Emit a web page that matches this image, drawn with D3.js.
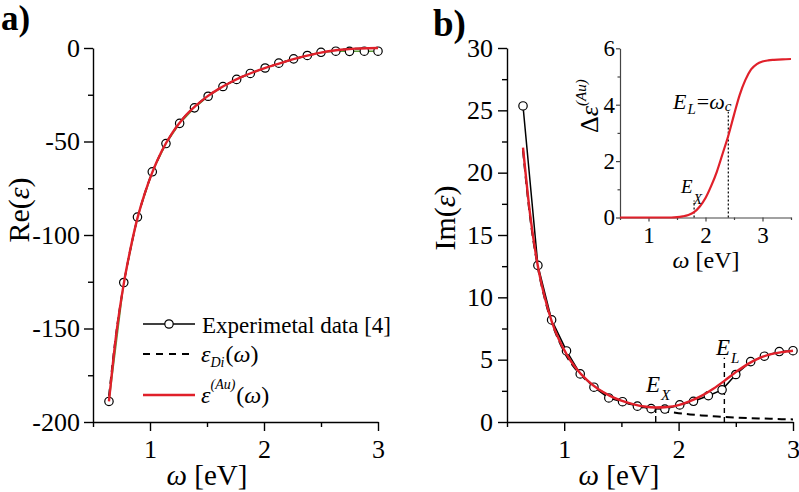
<!DOCTYPE html>
<html>
<head>
<meta charset="utf-8">
<script src="https://cdnjs.cloudflare.com/ajax/libs/d3/7.8.5/d3.min.js"></script>
<style>
body { margin: 0; background: #fff; }
svg { display: block; font-family: "Liberation Serif", "Times New Roman", serif; }
</style>
</head>
<body>
<svg width="799" height="492"></svg>
<script>
// experimental points (photon energy, eV)
const omegaExp = [0.64, 0.77, 0.89, 1.02, 1.14, 1.26, 1.39, 1.51, 1.64, 1.76, 1.88, 2.01, 2.13, 2.26, 2.38, 2.50, 2.63, 2.75, 2.88, 3.00]
const reExp = [-189.0, -125.4, -90.4, -66.2, -51.1, -40.3, -32.0, -25.8, -20.6, -16.8, -13.6, -10.7, -8.1, -5.8, -4.0, -2.3, -1.7, -1.8, -1.7, -1.7]
const imExp = [25.35, 12.56, 8.19, 5.70, 3.86, 2.79, 1.93, 1.63, 1.27, 1.07, 1.04, 1.37, 1.66, 2.11, 2.58, 3.81, 4.84, 5.28, 5.65, 5.72]

// model curves
const omegaFit = [0.64, 0.70, 0.77, 0.83, 0.89, 0.95, 1.02, 1.10, 1.20, 1.30, 1.40, 1.50, 1.60, 1.70, 1.80, 1.90, 2.00, 2.10, 2.20, 2.30, 2.40, 2.50, 2.60, 2.70, 2.80, 2.90, 3.00]
const reFit = [-189, -155, -126, -107, -91, -78.5, -66.5, -55.5, -45, -37, -31, -26, -22, -18.6, -15.6, -13.1, -10.9, -8.9, -7.0, -5.3, -3.8, -2.5, -1.5, -0.8, -0.35, -0.1, 0]
const reDrude = [-186, -154, -126, -107, -91, -78.5, -66.5, -55.5, -45, -37, -31, -26, -22, -18.6, -15.6, -13.1, -10.9, -8.9, -7.0, -5.3, -3.8, -2.5, -1.5, -0.8, -0.35, -0.1, 0]
const imFit = [22.0, 16.8, 12.5, 10.0, 8.1, 6.7, 5.45, 4.35, 3.35, 2.62, 2.1, 1.71, 1.43, 1.24, 1.16, 1.2, 1.36, 1.68, 2.1, 2.65, 3.3, 4.0, 4.62, 5.1, 5.42, 5.6, 5.72]
const imDrude = [21.8, 16.6, 12.4, 9.9, 8.0, 6.6, 5.3, 4.25, 3.3, 2.6, 2.07, 1.68, 1.38, 1.15, 0.97, 0.83, 0.71, 0.61, 0.53, 0.47, 0.41, 0.36, 0.32, 0.29, 0.26, 0.23, 0.21]

// inset: interband contribution
const omegaInset = [0.5, 1.0, 1.4, 1.5, 1.6, 1.7, 1.8, 1.9, 2.0, 2.1, 2.2, 2.3, 2.4, 2.5, 2.6, 2.7, 2.8, 2.9, 3.0, 3.1, 3.2, 3.35, 3.5]
const deltaEps = [0, 0, 0, 0.01, 0.04, 0.09, 0.19, 0.39, 0.69, 1.12, 1.63, 2.26, 2.9, 3.64, 4.35, 4.88, 5.25, 5.44, 5.53, 5.57, 5.59, 5.61, 5.62]

const EX = 1.8, EL = 2.4

// ticks
const xMajor = [1, 2, 3], xMinor = [0.5, 1.5, 2.5]
const reMajor = [0, -50, -100, -150, -200], reMinor = [-25, -75, -125, -175]
const imMajor = [0, 5, 10, 15, 20, 25, 30], imMinor = [2.5, 7.5, 12.5, 17.5, 22.5, 27.5]
const insMajorY = [0, 2, 4, 6], insMinorY = [1, 3, 5]
const insMajorX = [1, 2, 3], insMinorX = [0.5, 1.5, 2.5, 3.5]

const RED = '#e0202a'
const SERIF = '"Liberation Serif", "Times New Roman", serif'
const svg = d3.select('svg')

const zip = (xs, ys) => xs.map((v, i) => [v, ys[i]])

function addAxes(g, x, y, o) {
    const gy = g.append('g').attr('transform', `translate(${x.range()[0]},0)`)
    gy.call(d3.axisLeft(y).tickValues(o.yMajor).tickSize(o.major).tickSizeOuter(0)
        .tickPadding(o.padY).tickFormat(d => String(d)))
    gy.append('g').call(d3.axisLeft(y).tickValues(o.yMinor).tickSize(o.minor).tickFormat(''))
        .select('.domain').remove()

    const gx = g.append('g').attr('transform', `translate(0,${y.range()[0]})`)
    gx.call(d3.axisBottom(x).tickValues(o.xMajor).tickSize(o.major).tickSizeOuter(0)
        .tickPadding(o.padX).tickFormat(d => String(d)))
    gx.append('g').call(d3.axisBottom(x).tickValues(o.xMinor).tickSize(o.minor).tickFormat(''))
        .select('.domain').remove()

    g.selectAll('g').attr('font-family', SERIF).attr('font-size', o.fontSize)
    g.selectAll('.domain, .tick line').attr('stroke', o.color).attr('stroke-width', o.width)
    g.selectAll('.tick text').attr('fill', '#000')
}

// parts: {t, i: italic, s: size, dy: offset from baseline, dx}
function rich(g, x, y, parts, size) {
    const t = g.append('text').attr('x', x).attr('y', y)
        .attr('font-size', size).attr('font-family', SERIF).attr('fill', '#000')
    let shift = 0
    parts.forEach(p => {
        const s = t.append('tspan').text(p.t)
        if (p.i) s.attr('font-style', 'italic')
        if (p.s) s.attr('font-size', p.s)
        const target = p.dy || 0
        if (target !== shift) s.attr('dy', target - shift)
        shift = target
        if (p.dx) s.attr('dx', p.dx)
    })
    return t
}

// ---------- panel a ----------
const xa = d3.scaleLinear().domain([0.5, 3]).range([93, 378])
const ya = d3.scaleLinear().domain([-200, 0]).range([422, 48])
const ga = svg.append('g')
addAxes(ga, xa, ya, { yMajor: reMajor, yMinor: reMinor, xMajor, xMinor, major: 9, minor: 5,
    padY: 4, padX: 9, fontSize: 26, color: '#000', width: 1.4 })

const lineA = d3.line().x(d => xa(d[0])).y(d => ya(d[1]))
ga.append('path').datum(zip(omegaExp, reExp)).attr('d', lineA)
    .attr('fill', 'none').attr('stroke', '#5b9b3a').attr('stroke-width', 1.5)
ga.append('path').datum(zip(omegaFit, reDrude)).attr('d', lineA.curve(d3.curveMonotoneX))
    .attr('fill', 'none').attr('stroke', '#000').attr('stroke-width', 1.8).attr('stroke-dasharray', '7,5')
ga.selectAll('circle.exp').data(zip(omegaExp, reExp)).enter().append('circle')
    .attr('class', 'exp').attr('cx', d => xa(d[0])).attr('cy', d => ya(d[1])).attr('r', 4.2)
    .attr('fill', '#fff').attr('stroke', '#000').attr('stroke-width', 1.2)
ga.append('path').datum(zip(omegaFit, reFit)).attr('d', lineA.curve(d3.curveMonotoneX))
    .attr('fill', 'none').attr('stroke', RED).attr('stroke-width', 2.4)

// legend
const lg = ga.append('g')
lg.append('line').attr('x1', 143).attr('x2', 195).attr('y1', 324).attr('y2', 324)
    .attr('stroke', '#000').attr('stroke-width', 1.5)
lg.append('circle').attr('cx', 169).attr('cy', 324).attr('r', 4.2)
    .attr('fill', '#fff').attr('stroke', '#000').attr('stroke-width', 1.2)
rich(lg, 202, 333, [{ t: 'Experimetal data [4]' }], 23)
lg.append('line').attr('x1', 143).attr('x2', 195).attr('y1', 354).attr('y2', 354)
    .attr('stroke', '#000').attr('stroke-width', 1.8).attr('stroke-dasharray', '7,6')
rich(lg, 201, 362, [{ t: 'ε', i: 1 }, { t: 'Di', i: 1, s: 14, dy: 5 }, { t: '(', dx: 1 }, { t: 'ω', i: 1 }, { t: ')' }], 24)
lg.append('line').attr('x1', 143).attr('x2', 195).attr('y1', 395).attr('y2', 395)
    .attr('stroke', RED).attr('stroke-width', 2.4)
rich(lg, 201, 403, [{ t: 'ε', i: 1 }, { t: '(Au)', i: 1, s: 14, dy: -14 },
    { t: '(', dy: 0, dx: 1 }, { t: 'ω', i: 1 }, { t: ')' }], 24)

rich(ga, 1, 30, [{ t: 'a)' }], 35).attr('font-weight', 'bold')
rich(ga, 0, 0, [{ t: 'Re(' }, { t: 'ε', i: 1 }, { t: ')' }], 30)
    .attr('text-anchor', 'middle').attr('transform', 'translate(29,210) rotate(-90)')
rich(ga, 207, 485, [{ t: 'ω', i: 1 }, { t: ' [eV]' }], 29).attr('text-anchor', 'middle')

// ---------- panel b ----------
const xb = d3.scaleLinear().domain([0.5, 3]).range([507, 793])
const yb = d3.scaleLinear().domain([0, 30]).range([422, 48])
const gb = svg.append('g')
addAxes(gb, xb, yb, { yMajor: imMajor, yMinor: imMinor, xMajor, xMinor, major: 9, minor: 5,
    padY: 5, padX: 9, fontSize: 26, color: '#000', width: 1.4 })

const lineB = d3.line().x(d => xb(d[0])).y(d => yb(d[1]))
gb.append('path').datum(zip(omegaExp, imExp)).attr('d', lineB)
    .attr('fill', 'none').attr('stroke', '#000').attr('stroke-width', 1.5)
gb.append('path').datum(zip(omegaFit, imDrude)).attr('d', lineB.curve(d3.curveMonotoneX))
    .attr('fill', 'none').attr('stroke', '#000').attr('stroke-width', 2).attr('stroke-dasharray', '8,5')
// E_X and E_L markers
gb.append('line').attr('x1', xb(EX)).attr('x2', xb(EX)).attr('y1', yb(0)).attr('y2', yb(1.2))
    .attr('stroke', '#000').attr('stroke-width', 1.4).attr('stroke-dasharray', '6,3')
gb.append('line').attr('x1', xb(EL)).attr('x2', xb(EL)).attr('y1', yb(0)).attr('y2', yb(5.15))
    .attr('stroke', '#000').attr('stroke-width', 1.4).attr('stroke-dasharray', '5,4')
gb.selectAll('circle.exp').data(zip(omegaExp, imExp)).enter().append('circle')
    .attr('class', 'exp').attr('cx', d => xb(d[0])).attr('cy', d => yb(d[1])).attr('r', 4.2)
    .attr('fill', '#fff').attr('stroke', '#000').attr('stroke-width', 1.2)
gb.append('path').datum(zip(omegaFit, imFit)).attr('d', lineB.curve(d3.curveMonotoneX))
    .attr('fill', 'none').attr('stroke', RED).attr('stroke-width', 2.4)

rich(gb, 646, 392, [{ t: 'E', i: 1 }, { t: 'X', i: 1, s: 15, dy: 8, dx: 1 }], 23)
rich(gb, 716, 355, [{ t: 'E', i: 1 }, { t: 'L', i: 1, s: 15, dy: 8, dx: 1 }], 23)

rich(gb, 433, 36, [{ t: 'b)' }], 37).attr('font-weight', 'bold')
rich(gb, 0, 0, [{ t: 'Im(' }, { t: 'ε', i: 1 }, { t: ')' }], 30)
    .attr('text-anchor', 'middle').attr('transform', 'translate(455,218) rotate(-90)')
rich(gb, 619, 485, [{ t: 'ω', i: 1 }, { t: ' [eV]' }], 29).attr('text-anchor', 'middle')

// ---------- inset ----------
const xi = d3.scaleLinear().domain([0.5, 3.5]).range([620, 791])
const yi = d3.scaleLinear().domain([0, 6]).range([217.5, 48.3])
const gi = svg.append('g')
addAxes(gi, xi, yi, { yMajor: insMajorY, yMinor: insMinorY, xMajor: insMajorX, xMinor: insMinorX,
    major: 4, minor: 2.5, padY: 1, padX: 5, fontSize: 23, color: '#444', width: 1.2 })

gi.append('line').attr('x1', xi(EX)).attr('x2', xi(EX)).attr('y1', yi(0)).attr('y2', yi(0.6))
    .attr('stroke', '#000').attr('stroke-width', 1.2).attr('stroke-dasharray', '2,2')
gi.append('line').attr('x1', xi(EL)).attr('x2', xi(EL)).attr('y1', yi(0)).attr('y2', yi(3.75))
    .attr('stroke', '#000').attr('stroke-width', 1.2).attr('stroke-dasharray', '2,2')
gi.append('path').datum(zip(omegaInset, deltaEps))
    .attr('d', d3.line().x(d => xi(d[0])).y(d => yi(d[1])).curve(d3.curveMonotoneX))
    .attr('fill', 'none').attr('stroke', RED).attr('stroke-width', 2.2)

rich(gi, 673, 109, [{ t: 'E', i: 1 }, { t: 'L', i: 1, s: 15, dy: 5, dx: 1 }, { t: '=', dy: 0, dx: 1 },
    { t: 'ω', i: 1 }, { t: 'c', i: 1, s: 15, dy: 2 }], 22)
rich(gi, 681, 193, [{ t: 'E', i: 1 }, { t: 'X', i: 1, s: 14, dy: 11, dx: 1 }], 19)
rich(gi, 0, 0, [{ t: 'Δ' }, { t: 'ε', i: 1 }, { t: '(Au)', i: 1, s: 15, dy: -12 }], 26)
    .attr('transform', 'translate(598,133) rotate(-90)')
rich(gi, 706, 268, [{ t: 'ω', i: 1 }, { t: ' [eV]' }], 24).attr('text-anchor', 'middle')
</script>
</body>
</html>
